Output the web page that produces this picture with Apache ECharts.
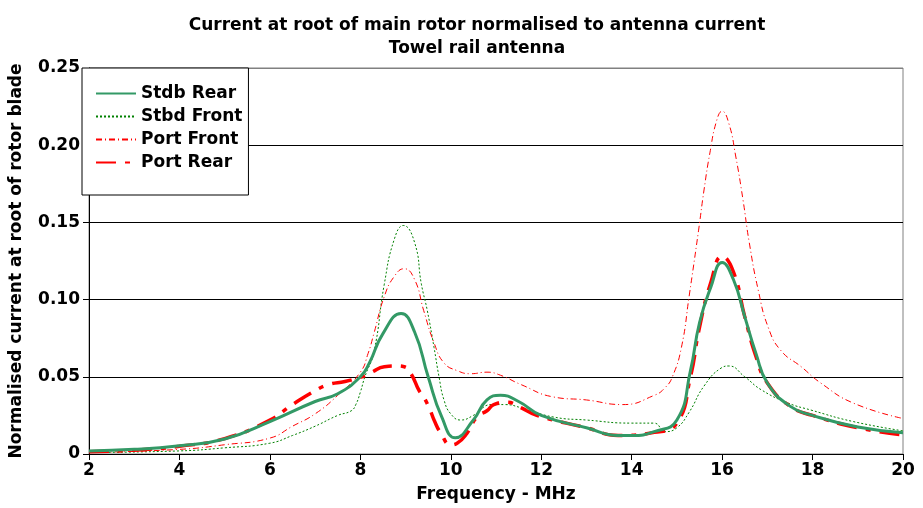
<!DOCTYPE html>
<html>
<head>
<meta charset="utf-8">
<script src="https://cdn.jsdelivr.net/npm/echarts@6/dist/echarts.min.js"></script>
<style>html,body{margin:0;padding:0;background:#fff}#c{width:923px;height:508px}</style>
</head>
<body>
<div id="c"></div>
<script>
// Data
const titleLines = ['Current at root of main rotor normalised to antenna current', 'Towel rail antenna'];
const seriesNames = ['Stdb Rear', 'Stbd Front', 'Port Front', 'Port Rear'];

const freqStdbRear = [2,3,4,5,6,7,7.5,8,8.2,8.5,8.9,9.2,9.5,9.8,10.1,10.5,10.8,11.1,11.5,12,13,13.7,14,14.5,15,15.3,15.5,15.75,16,16.25,16.5,16.75,17,17.5,18,19,20];
const valStdbRear  = [0.002,0.003,0.0054,0.0097,0.021,0.034,0.039,0.050,0.059,0.078,0.091,0.079,0.050,0.024,0.0105,0.022,0.035,0.038,0.034,0.025,0.017,0.012,0.012,0.0145,0.022,0.054,0.085,0.108,0.124,0.113,0.089,0.065,0.046,0.031,0.025,0.0175,0.0138];

const freqStbdFront = [2,4,5,6,6.5,7,7.5,7.8,7.9,8.0,8.1,8.3,8.53,8.75,8.95,9.2,9.35,9.48,9.63,9.74,9.85,10.0,10.22,10.5,10.9,11.2,11.55,12.26,13,14,14.5,14.74,15,15.27,15.6,15.98,16.15,16.5,16.87,17.46,17.96,18.9,20];
const valStbdFront  = [0.001,0.002,0.004,0.007,0.012,0.018,0.025,0.028,0.032,0.040,0.050,0.066,0.110,0.139,0.148,0.137,0.110,0.093,0.069,0.050,0.035,0.026,0.022,0.025,0.032,0.032,0.030,0.024,0.022,0.020,0.020,0.0145,0.017,0.027,0.044,0.0557,0.057,0.050,0.0415,0.033,0.0285,0.021,0.015];

const freqPortFront = [2,4,5,6,6.5,7,7.5,8,8.17,8.3,8.53,8.75,8.97,9.2,9.4,9.63,9.85,10.14,10.44,10.8,11.1,11.55,12.26,13,13.8,14.5,14.74,14.9,15.1,15.27,15.48,15.6,15.73,15.88,16,16.15,16.3,16.46,16.6,16.8,17.02,17.3,17.75,18.18,18.9,20];
const valPortFront  = [0.001,0.003,0.006,0.0103,0.018,0.026,0.038,0.053,0.065,0.078,0.102,0.115,0.120,0.113,0.093,0.072,0.059,0.054,0.052,0.053,0.051,0.045,0.037,0.035,0.032,0.038,0.043,0.050,0.069,0.102,0.145,0.171,0.195,0.216,0.222,0.214,0.193,0.165,0.137,0.106,0.082,0.067,0.0565,0.046,0.033,0.023];

const freqPortRear = [2,3,4,5,6,6.5,7,7.3,7.66,8.03,8.25,8.53,8.8,8.97,9.12,9.3,9.4,9.55,9.63,9.78,10.0,10.14,10.36,10.58,10.8,10.95,11.24,11.55,11.9,13,13.7,14.5,15,15.3,15.5,15.75,16,16.25,16.5,16.75,17,17.5,18,19,20];
const valPortRear  = [0.0015,0.0025,0.005,0.010,0.022,0.032,0.041,0.045,0.047,0.050,0.053,0.0565,0.057,0.0565,0.052,0.041,0.037,0.028,0.022,0.0135,0.006,0.007,0.0135,0.024,0.028,0.032,0.0335,0.030,0.025,0.017,0.012,0.014,0.020,0.050,0.082,0.111,0.128,0.118,0.089,0.063,0.046,0.031,0.025,0.017,0.0123];

const xAxisName = 'Frequency - MHz';
const yAxisName = 'Normalised current at root of rotor blade';

function pairs(xs, ys){ return xs.map((x,i)=>[x, ys[i]]); }

const FONT = 'DejaVu Sans, Liberation Sans, sans-serif';
const chart = echarts.init(document.getElementById('c'), null, {renderer:'canvas'});
chart.setOption({
  animation: false,
  backgroundColor: '#fff',
  title: {
    text: titleLines.join('\n'),
    left: 472, top: 9, textAlign: 'center',
    textStyle: {fontFamily: FONT, fontWeight: 'bold', fontSize: 17, color: '#000', lineHeight: 23}
  },
  legend: {
    orient: 'vertical', left: 82, top: 68,
    backgroundColor: '#fff', borderColor: '#000', borderWidth: 1,
    padding: [17, 6, 24, 13],
    itemWidth: 40, itemHeight: 17, itemGap: 6,
    itemStyle: {color: 'transparent', borderWidth: 0, opacity: 0},
    textStyle: {fontFamily: FONT, fontWeight: 'bold', fontSize: 17, color: '#000'},
    data: seriesNames
  },
  grid: {left: 82, right: 20, top: 68, bottom: 54, show: true, borderColor: '#808080', borderWidth: 1, backgroundColor: 'transparent'},
  xAxis: {
    type: 'value', min: 2, max: 20, interval: 2,
    name: xAxisName, nameLocation: 'middle', nameGap: 32,
    nameTextStyle: {fontFamily: FONT, fontWeight: 'bold', fontSize: 17, color: '#000'},
    axisLine: {lineStyle: {color: '#000', width: 1}},
    axisTick: {show: true, inside: false, length: 6, lineStyle: {color: '#000'}},
    axisLabel: {fontFamily: FONT, fontWeight: 'bold', fontSize: 17, color: '#000', margin: 8},
    splitLine: {show: false}
  },
  yAxis: {
    type: 'value', min: 0, max: 0.25, interval: 0.05,
    name: yAxisName, nameLocation: 'middle', nameGap: 64,
    nameTextStyle: {fontFamily: FONT, fontWeight: 'bold', fontSize: 17, color: '#000'},
    axisLine: {show: true, lineStyle: {color: '#000', width: 1}},
    axisTick: {show: true, inside: false, length: 6, lineStyle: {color: '#000'}},
    axisLabel: {fontFamily: FONT, fontWeight: 'bold', fontSize: 17, color: '#000', margin: 9,
      formatter: v => v === 0 ? '0' : v.toFixed(2)},
    splitLine: {show: true, lineStyle: {color: ['#000','#000','#000','#000','#000','#808080'], width: 1}}
  },
  series: [
    {name: seriesNames[0], type: 'line', smooth: 0.5, symbol: 'none', z: 4,
     data: pairs(freqStdbRear, valStdbRear), itemStyle: {color: '#339966'},
     lineStyle: {color: '#339966', width: 3, type: 'solid'}},
    {name: seriesNames[1], type: 'line', smooth: 0.5, symbol: 'none', z: 2,
     data: pairs(freqStbdFront, valStbdFront), itemStyle: {color: '#008000'},
     lineStyle: {color: '#008000', width: 1, type: [2, 2]}},
    {name: seriesNames[2], type: 'line', smooth: 0.5, symbol: 'none', z: 2,
     data: pairs(freqPortFront, valPortFront), itemStyle: {color: '#ff0000'},
     lineStyle: {color: '#ff0000', width: 1, type: [6, 3, 1, 3]}},
    {name: seriesNames[3], type: 'line', smooth: 0.5, symbol: 'none', z: 3,
     data: pairs(freqPortRear, valPortRear), itemStyle: {color: '#ff0000'},
     lineStyle: {color: '#ff0000', width: 3.5, type: [20, 9, 5, 9]}}
  ]
});
</script>
</body>
</html>
